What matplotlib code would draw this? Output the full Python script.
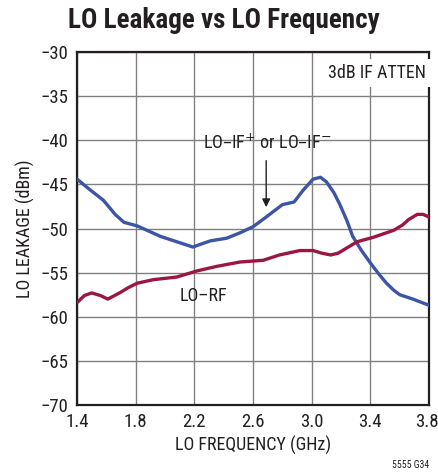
import matplotlib
matplotlib.use("Agg")
import matplotlib.pyplot as plt
import matplotlib.transforms as mtransforms

plt.rcParams['font.family'] = ['Roboto Condensed', 'DejaVu Sans']

title = "LO Leakage vs LO Frequency"
x_label = "LO FREQUENCY (GHz)"
y_label = "LO LEAKAGE (dBm)"
x_ticks = [1.4, 1.8, 2.2, 2.6, 3.0, 3.4, 3.8]
y_ticks = [-70, -65, -60, -55, -50, -45, -40, -35, -30]

# LO-IF curve (blue)
if_freq = [1.40, 1.48, 1.58, 1.66, 1.72, 1.81, 1.89, 1.97, 2.08, 2.19, 2.24, 2.31, 2.42,
           2.51, 2.60, 2.69, 2.80, 2.88, 2.94, 3.01, 3.06, 3.10, 3.15, 3.19, 3.24, 3.28,
           3.34, 3.40, 3.46, 3.51, 3.56, 3.60, 3.69, 3.80]
if_leak = [-44.4, -45.5, -46.8, -48.4, -49.3, -49.7, -50.3, -50.9, -51.5, -52.1, -51.8,
           -51.4, -51.1, -50.5, -49.8, -48.7, -47.3, -47.0, -45.7, -44.4, -44.2, -44.7,
           -45.9, -47.2, -49.1, -50.9, -52.5, -53.9, -55.2, -56.2, -57.0, -57.5, -58.0, -58.7]

# LO-RF curve (red)
rf_freq = [1.40, 1.45, 1.50, 1.56, 1.61, 1.69, 1.75, 1.81, 1.92, 2.08, 2.22, 2.35, 2.51,
           2.67, 2.78, 2.92, 3.01, 3.07, 3.13, 3.18, 3.22, 3.27, 3.31, 3.42, 3.56, 3.62,
           3.66, 3.72, 3.76, 3.80]
rf_leak = [-58.4, -57.6, -57.3, -57.6, -58.0, -57.3, -56.7, -56.2, -55.8, -55.5, -54.8,
           -54.3, -53.8, -53.6, -53.0, -52.5, -52.5, -52.8, -53.0, -52.8, -52.4, -51.9,
           -51.5, -51.0, -50.2, -49.6, -49.0, -48.4, -48.4, -48.7]

fig = plt.figure(figsize=(4.39, 4.72), dpi=100)
ax = fig.add_axes([77/439, 1 - 405/472, 352/439, 353/472])

ax.set_xlim(1.4, 3.8)
ax.set_ylim(-70, -30)
ax.set_xticks(x_ticks)
ax.set_yticks(y_ticks)
ax.set_xticklabels([f"{v:.1f}" for v in x_ticks])
ax.set_yticklabels([f"\u2212{abs(v)}" for v in y_ticks])
ax.tick_params(length=0, labelsize=13.5, pad=6, colors='#231f20')
ax.grid(True, color='#808080', linewidth=1.0)
ax.set_axisbelow(True)
for s in ax.spines.values():
    s.set_linewidth(1.6)
    s.set_color('#231f20')

# nudge the last x tick label so it stays inside the figure
last = ax.get_xticklabels()[-1]
last.set_transform(last.get_transform() + mtransforms.ScaledTranslation(-2/100, 0, fig.dpi_scale_trans))

ax.plot(if_freq, if_leak, color='#3d55a5', linewidth=2.4, solid_joinstyle='round',
        solid_capstyle='round', zorder=3)
ax.plot(rf_freq, rf_leak, color='#9b1742', linewidth=2.4, solid_joinstyle='round',
        solid_capstyle='round', zorder=3)

ax.set_xlabel(x_label, fontsize=13, color='#231f20', labelpad=3)
ax.set_ylabel(y_label, fontsize=13, color='#231f20', labelpad=4)

ax.text(3.78, -32.4, "3dB IF ATTEN", ha='right', va='center', fontsize=13, color='#231f20',
        bbox=dict(facecolor='white', edgecolor='none', pad=3.5), zorder=4)
ax.text(2.70, -40.3, "LO\u2013IF$^{+}$ or LO\u2013IF$^{\u2212}$", ha='center', va='center',
        fontsize=13, color='#231f20', zorder=4)
ax.annotate("", xy=(2.69, -47.9), xytext=(2.69, -42.0),
            arrowprops=dict(arrowstyle='-|>', color='#231f20', lw=1.0, mutation_scale=12),
            zorder=4)
ax.text(2.26, -57.6, "LO\u2013RF", ha='center', va='center', fontsize=13, color='#231f20',
        zorder=4)

fig.text(224/439, 1 - 21/472, title, ha='center', va='center', fontsize=19.5,
         fontweight='bold', color='#231f20')
fig.text(429/439, 1 - 465/472, "5555 G34", ha='right', va='center', fontsize=7,
         color='#231f20')

fig.savefig("out.png", dpi=100)
